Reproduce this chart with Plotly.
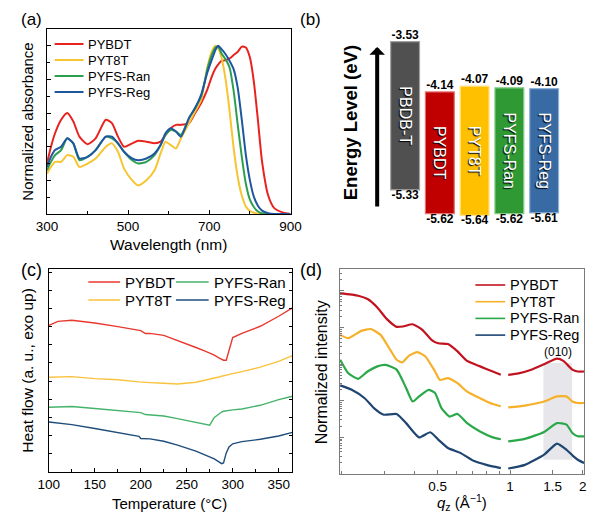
import math
import plotly.graph_objects as go

# page body keeps its default 8px margin, so the figure is drawn 8px in from the corner
OFF = 8
W, H = 600 - OFF, 519 - OFF
FONT = "Liberation Sans, Arial, sans-serif"


def px(x):
    return (x - OFF) / W


def py(y):
    return 1 - (y - OFF) / H


# %%
# (a) normalized UV-vis absorbance
names = ["PYBDT", "PYT8T", "PYFS-Ran", "PYFS-Reg"]

wavelength = [300, 310, 320, 335, 350, 365, 380, 400, 420, 445, 460, 475, 490, 510, 525,
              545, 565, 580, 592, 605, 618, 630, 650, 665, 680, 695, 705, 715, 722, 730,
              740, 750, 760, 770, 780, 790, 800, 810, 820, 830, 845, 860, 880, 900]
abs_pybdt = [0.30, 0.40, 0.48, 0.56, 0.60, 0.55, 0.46, 0.415, 0.45, 0.56, 0.54, 0.46, 0.40, 0.42, 0.435,
             0.43, 0.42, 0.43, 0.47, 0.51, 0.53, 0.53, 0.54, 0.60, 0.66, 0.74, 0.81, 0.865, 0.89, 0.91,
             0.915, 0.925, 0.945, 0.965, 0.995, 0.99, 0.93, 0.78, 0.55, 0.31, 0.11, 0.035, 0.01, 0.0]
abs_pyt8t = [0.24, 0.28, 0.31, 0.31, 0.35, 0.34, 0.28, 0.30, 0.33, 0.40, 0.42, 0.37, 0.27, 0.20, 0.17,
             0.20, 0.26, 0.36, 0.43, 0.41, 0.39, 0.45, 0.54, 0.61, 0.68, 0.87, 0.96, 1.0, 0.985, 0.93,
             0.80, 0.61, 0.39, 0.22, 0.11, 0.045, 0.018, 0.007, 0.002, 0.0, 0.0, 0.0, 0.0, 0.0]
abs_ran = [0.26, 0.31, 0.35, 0.38, 0.45, 0.42, 0.32, 0.34, 0.38, 0.46, 0.45, 0.42, 0.37, 0.32, 0.30,
           0.31, 0.35, 0.41, 0.47, 0.50, 0.49, 0.47, 0.57, 0.63, 0.70, 0.86, 0.94, 0.99, 0.995, 0.955,
           0.92, 0.87, 0.73, 0.53, 0.34, 0.18, 0.085, 0.04, 0.015, 0.004, 0.0, 0.0, 0.0, 0.0]
abs_reg = [0.28, 0.34, 0.38, 0.40, 0.45, 0.42, 0.33, 0.34, 0.38, 0.46, 0.46, 0.42, 0.37, 0.33, 0.32,
           0.33, 0.36, 0.41, 0.48, 0.51, 0.49, 0.46, 0.57, 0.63, 0.71, 0.84, 0.91, 0.975, 1.0, 0.98,
           0.95, 0.91, 0.86, 0.75, 0.56, 0.35, 0.20, 0.10, 0.048, 0.02, 0.005, 0.0, 0.0, 0.0]
colors_a = ["#e8231f", "#f7c531", "#2e9e4f", "#1f56a0"]

# %%
# (b) energy levels
materials = ["PBDB-T", "PYBDT", "PYT8T", "PYFS-Ran", "PYFS-Reg"]
lumo = [-3.53, -4.14, -4.07, -4.09, -4.10]
homo = [-5.33, -5.62, -5.64, -5.62, -5.61]
bar_colors = ["#505050", "#c00000", "#ffc000", "#2f9a33", "#386aa3"]
bar_edges = ["#a0a0a0", "#e87070", "#ffe08a", "#86cc88", "#8fb2d8"]

# %%
# (c) DSC heat flow
temp = [100, 110, 125, 150, 175, 198, 200, 205, 210, 225, 240, 260, 270, 275, 280,
        285, 288, 290, 293, 296, 300, 310, 330, 350, 365]
heat_pybdt = [8.07, 8.29, 8.35, 8.2, 8.0, 7.8, 7.78, 7.62, 7.63, 7.52, 7.25, 6.85, 6.65, 6.55, 6.43,
              6.28, 6.2, 6.15, 6.15, 6.7, 7.4, 7.63, 8.02, 8.57, 9.03]
heat_pyt8t = [5.21, 5.23, 5.25, 5.14, 5.08, 4.96, 4.95, 4.94, 4.92, 4.88, 4.84, 4.94, 5.04, 5.1, 5.17,
              5.23, 5.27, 5.3, 5.33, 5.37, 5.41, 5.52, 5.77, 6.09, 6.40]
heat_ran = [3.56, 3.58, 3.6, 3.49, 3.38, 3.28, 3.27, 3.16, 3.15, 3.08, 2.94, 2.72, 2.62, 2.58, 3.0,
            3.22, 3.3, 3.34, 3.37, 3.4, 3.42, 3.47, 3.67, 3.98, 4.17]
heat_reg = [2.75, 2.7, 2.61, 2.39, 2.18, 1.96, 1.84, 1.82, 1.82, 1.69, 1.48, 1.15, 0.95, 0.84, 0.72,
            0.56, 0.46, 0.5, 1.05, 1.38, 1.55, 1.67, 1.8, 1.98, 2.18]
colors_c = ["#e8392f", "#f9c23c", "#45b36b", "#1f4d7a"]

# %%
# (d) out-of-plane line cuts (log10 of normalized intensity, offset)
q_pybdt = [0.197, 0.234, 0.256, 0.281, 0.308, 0.338, 0.359, 0.394, 0.432, 0.473, 0.503, 0.552, 0.605,
           0.663, 0.750, 0.847, 0.915, None, 0.982, 1.083, 1.224, 1.384, 1.564, 1.664, 1.813, 1.909, 2.03]
lg_pybdt = [4.94, 4.87, 4.78, 4.55, 4.23, 4.02, 4.03, 4.09, 3.94, 3.66, 3.57, 3.55, 3.35,
            3.09, 2.94, 2.8, 2.71, None, 2.71, 2.75, 2.85, 3.0, 3.15, 3.09, 2.85, 2.8, 2.8]
q_pyt8t = [0.197, 0.213, 0.241, 0.264, 0.290, 0.318, 0.338, 0.357, 0.382, 0.412, 0.445, 0.488, 0.511, 0.552,
           0.605, 0.663, 0.750, 0.847, 0.915, None, 0.982, 1.152, 1.384, 1.564, 1.715, 1.813, 1.909, 2.03]
lg_pyt8t = [3.8, 3.71, 3.91, 3.96, 3.8, 3.39, 3.12, 3.05, 3.24, 3.33, 3.21, 2.8, 2.57, 2.62,
            2.48, 2.25, 2.07, 1.91, 1.85, None, 1.82, 1.87, 1.98, 2.12, 2.12, 1.98, 1.94, 1.94]
q_ran = [0.197, 0.213, 0.234, 0.256, 0.281, 0.304, 0.338, 0.370, 0.394, 0.419, 0.459, 0.488, 0.519, 0.560,
         0.605, 0.663, 0.750, 0.847, 0.915, None, 0.982, 1.152, 1.384, 1.564, 1.715, 1.813, 1.909, 2.03]
lg_ran = [3.12, 2.75, 2.6, 2.8, 2.94, 2.98, 2.85, 2.35, 1.98, 2.12, 2.3, 2.21, 1.8, 1.57,
          1.64, 1.39, 1.16, 1.0, 0.95, None, 0.89, 0.96, 1.15, 1.39, 1.35, 1.12, 1.03, 1.03]
q_reg = [0.197, 0.220, 0.249, 0.272, 0.299, 0.338, 0.370, 0.419, 0.466, 0.503, 0.552, 0.624,
         0.705, 0.797, 0.915, None, 0.982, 1.152, 1.384, 1.564, 1.715, 1.813, 1.909, 2.03]
lg_reg = [2.42, 2.3, 2.07, 1.8, 1.62, 1.64, 1.39, 1.0, 1.14, 0.94, 0.71, 0.57,
          0.36, 0.25, 0.16, None, 0.15, 0.25, 0.53, 0.83, 0.66, 0.51, 0.39, 0.3]
band_q = [1.375, 1.81]
band_lg = [0.39, 3.03]
colors_d = ["#c1121f", "#f6b02a", "#2aa84a", "#1f4571"]

# %%
fig = go.Figure()

# (a)
for name, ys, c in zip(names, [abs_pybdt, abs_pyt8t, abs_ran, abs_reg], colors_a):
    fig.add_trace(go.Scatter(x=wavelength, y=ys, mode="lines", name=name,
                             line=dict(color=c, width=2, shape="spline", smoothing=0.6),
                             xaxis="x", yaxis="y", showlegend=False))

# (b)
idx = list(range(len(materials)))
fig.add_trace(go.Bar(
    x=idx, y=[l - h for l, h in zip(lumo, homo)], base=homo,
    width=0.83, text=materials, textposition="inside", insidetextanchor="middle", textangle=90,
    textfont=dict(color="white", size=16, family=FONT, shadow="1px 1px 1px #000"),
    marker=dict(color=bar_colors, line=dict(color=bar_edges, width=1.2)),
    xaxis="x2", yaxis="y2", showlegend=False,
))
fig.add_trace(go.Scatter(x=idx, y=lumo, mode="text", text=[f"{v:.2f}" for v in lumo],
                         textposition="top center",
                         textfont=dict(size=12, color="black", family=FONT, weight="bold"),
                         xaxis="x2", yaxis="y2", showlegend=False))
fig.add_trace(go.Scatter(x=idx, y=homo, mode="text", text=[f"{v:.2f}" for v in homo],
                         textposition="bottom center",
                         textfont=dict(size=12, color="black", family=FONT, weight="bold"),
                         xaxis="x2", yaxis="y2", showlegend=False))

# (c)
for name, ys, c in zip(names, [heat_pybdt, heat_pyt8t, heat_ran, heat_reg], colors_c):
    fig.add_trace(go.Scatter(x=temp, y=ys, mode="lines", name=name, line=dict(color=c, width=1.4),
                             xaxis="x3", yaxis="y3", showlegend=False))

# (d)
fig.add_trace(go.Scatter(x=[band_q[0], band_q[1], band_q[1], band_q[0], band_q[0]],
                         y=[10 ** band_lg[0], 10 ** band_lg[0], 10 ** band_lg[1], 10 ** band_lg[1], 10 ** band_lg[0]],
                         fill="toself", fillcolor="rgba(215,215,222,0.6)", line=dict(width=0), mode="lines",
                         xaxis="x4", yaxis="y4", showlegend=False, hoverinfo="skip"))
for name, qs, lg, c in zip(names, [q_pybdt, q_pyt8t, q_ran, q_reg], [lg_pybdt, lg_pyt8t, lg_ran, lg_reg], colors_d):
    fig.add_trace(go.Scatter(x=qs, y=[None if v is None else 10 ** v for v in lg], mode="lines", name=name,
                             line=dict(color=c, width=2.2, shape="spline", smoothing=0.5), connectgaps=False,
                             xaxis="x4", yaxis="y4", showlegend=False))

axis_common = dict(showline=True, linecolor="black", linewidth=1.2, mirror=True, ticks="inside",
                   tickcolor="black", showgrid=False, zeroline=False,
                   tickfont=dict(size=13.5, family=FONT, color="black"))

fig.update_layout(
    width=W, height=H, margin=dict(l=0, r=0, t=0, b=0),
    paper_bgcolor="white", plot_bgcolor="white",
    font=dict(family=FONT, color="black"),
    xaxis=dict(axis_common, domain=[px(37), px(290)], range=[300, 900], anchor="y",
               tickvals=[300, 500, 700, 900], ticklen=4,
               minor=dict(tickvals=[400, 600, 800], ticks="inside", ticklen=3, tickcolor="black")),
    yaxis=dict(axis_common, domain=[py(214), py(29)], range=[0, 1.1], anchor="x",
               showticklabels=False, dtick=0.2, ticklen=4,
               minor=dict(dtick=0.1, ticks="inside", ticklen=3, tickcolor="black")),
    xaxis2=dict(visible=False, domain=[px(340), px(600)], range=[-1.911, 5.291], anchor="y2"),
    yaxis2=dict(visible=False, domain=[py(230), py(20)], range=[-5.818, -3.266], anchor="x2"),
    xaxis3=dict(axis_common, domain=[px(39), px(292)], range=[100, 365], anchor="y3",
                dtick=50, ticklen=4, minor=dict(dtick=25, ticks="inside", ticklen=3, tickcolor="black")),
    yaxis3=dict(axis_common, domain=[py(472), py(269)], range=[0, 11.17], anchor="x3",
                showticklabels=False, dtick=1, ticklen=3, mirror="ticks"),
    xaxis4=dict(axis_common, type="log", domain=[px(341), px(595)],
                range=[math.log10(0.196), math.log10(2.03)], anchor="y4",
                linecolor="#7a7a7a", tickcolor="#7a7a7a", ticklen=4,
                tickvals=[0.5, 1, 1.5, 2], ticktext=["0.5", "1", "1.5", "2"],
                minor=dict(tickvals=[0.2, 0.3, 0.4, 0.6, 0.7, 0.8, 0.9], ticks="inside", ticklen=3,
                           tickcolor="#7a7a7a")),
    yaxis4=dict(axis_common, type="log", domain=[py(474), py(269)], range=[0, 5.6], anchor="x4",
                linecolor="#7a7a7a", tickcolor="#7a7a7a", showticklabels=False, ticklen=4,
                tickvals=[10 ** k for k in range(1, 6)],
                minor=dict(tickvals=[m * 10 ** k for k in range(0, 6) for m in range(2, 10)],
                           ticks="inside", ticklen=2, tickcolor="#7a7a7a")),
)


def add_legend(items, x0, y0, dy, length, size, width):
    for i, (name, color) in enumerate(items):
        y = y0 + i * dy
        fig.add_shape(type="line", xref="paper", yref="paper", x0=px(x0), x1=px(x0 + length),
                      y0=py(y), y1=py(y), line=dict(color=color, width=width))
        fig.add_annotation(xref="paper", yref="paper", x=px(x0 + length + 3), y=py(y), text=name,
                           showarrow=False, xanchor="left", yanchor="middle", font=dict(size=size))


add_legend(list(zip(names, colors_a)), 45, 44, 16, 30, 13, 2)
add_legend(list(zip(names[:2], colors_c[:2])), 80, 282, 18, 33, 15, 1.4)
add_legend(list(zip(names[2:], colors_c[2:])), 171, 282, 18, 34, 15, 1.4)
add_legend(list(zip(names, colors_d)), 482, 285, 16.7, 31, 14.5, 1.6)


def add_text(x, y, text, size, angle=0, bold=False, anchor="center"):
    fig.add_annotation(xref="paper", yref="paper", x=px(x), y=py(y), text=f"<b>{text}</b>" if bold else text,
                       showarrow=False, xanchor=anchor, yanchor="middle", textangle=angle,
                       font=dict(size=size))


# panel letters; top ones nudged down so they stay inside the drawing area
add_text(OFF, 19, "(a)", 17, anchor="left")
add_text(311, 19, "(b)", 17)
add_text(OFF, 270, "(c)", 18, anchor="left")
add_text(311, 270, "(d)", 18)

add_text(163, 244, "Wavelength (nm)", 15.5)
add_text(16, 122, "Normalized absorbance", 15, -90)
add_text(352, 123, "Energy Level (eV)", 18.5, -90, bold=True)
add_text(164, 503, "Temperature (°C)", 15)
add_text(16, 370, "Heat flow (a. u., exo up)", 15.5, -90)
add_text(468, 502, "<i>q</i><sub>z</sub> (Å<sup>−1</sup>)", 15)
add_text(322, 372, "Normalized intensity", 16, -90)

# (010) peak label
fig.add_annotation(xref="x4", yref="y4", x=math.log10(1.575), y=3.33, text="(010)", showarrow=False,
                   font=dict(size=12))

# energy arrow
fig.add_annotation(xref="paper", yref="paper", x=px(380), y=py(47), ax=0, ay=161, text="",
                   showarrow=True, arrowhead=1, arrowsize=0.65, arrowwidth=4, arrowcolor="black")

fig.write_html("out.html")
